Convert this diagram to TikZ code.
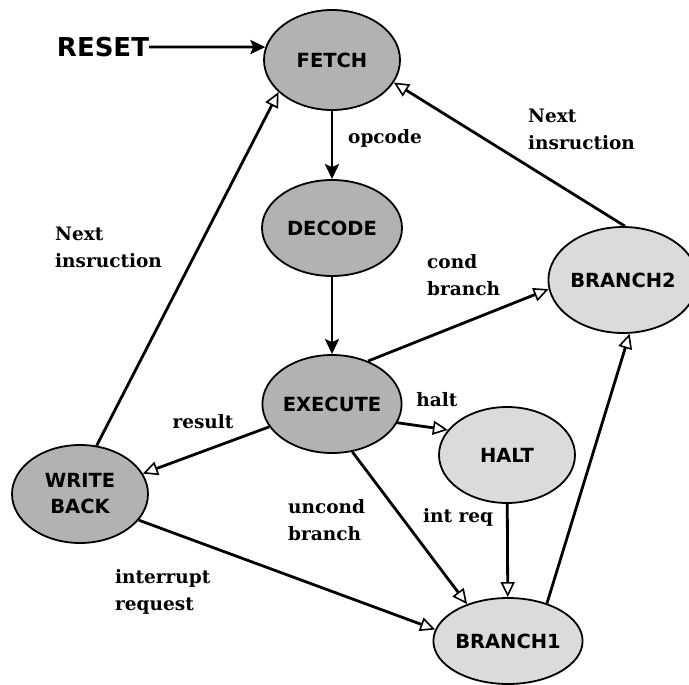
\documentclass[tikz,border=0pt]{standalone}
\usepackage{fontspec}
\setmainfont{DejaVu Serif}
\newfontfamily\statefont{DejaVu Sans}
\usetikzlibrary{arrows.meta,shapes.geometric}
\definecolor{statedark}{gray}{0.70}
\definecolor{statelight}{gray}{0.86}

\begin{document}
\begin{tikzpicture}[x=1pt, y=-1pt,
    state/.style={ellipse, draw, line width=1.8pt, inner sep=0pt, minimum width=136pt, minimum height=98pt, align=center, font=\statefont\bfseries\fontsize{19.5}{26}\selectfont},
    dark/.style={fill=statedark},
    light/.style={fill=statelight},
    tag/.style={inner sep=0pt, align=left, font=\bfseries\fontsize{18.5}{27}\selectfont},
    mainflow/.style={-{Stealth[length=15pt, width=14pt, inset=3pt]}, line width=2.8pt},
    sideflow/.style={-{Triangle[open, length=15pt, width=14pt, fill=white, line width=1.6pt]}, line width=2.8pt}
]
\useasboundingbox (0,0) rectangle (689,685);

% Main pipeline
\node[font=\statefont\bfseries\fontsize{26}{30}\selectfont, inner sep=0pt] (reset) at (103,47) {RESET};
\node[state, dark, minimum height=100pt] (fetch) at (332,60) {FETCH};
\node[state, dark, minimum width=140pt, minimum height=96pt] (decode) at (332,228) {DECODE};
\node[state, dark] (execute) at (332,404) {EXECUTE};
\node[state, dark] (writeback) at (80,494) {WRITE\\BACK};

% Other states
\node[state, light, minimum height=96pt] (halt) at (507,455) {HALT};
\node[state, light, minimum width=140pt, minimum height=86pt] (branch1) at (508,641) {BRANCH1};
\node[state, light, minimum width=130pt, minimum height=106pt] (branch2) at (623,280) {BRANCH2};

% Transitions
\draw[mainflow] (reset.east) -- (fetch.169);
\draw[mainflow] (fetch) -- (decode);
\draw[mainflow] (decode) -- (execute);
\draw[sideflow] (execute.50) -- (branch2.187);
\draw[sideflow] (branch2.88) -- (fetch.-20);
\draw[sideflow] (writeback.71) -- (fetch.211);
\draw[sideflow] (execute.200) -- (writeback.18);
\draw[sideflow] (execute.-16) -- (halt.157);
\draw[sideflow] (execute.-67) -- (branch1.138);
\draw[sideflow] (halt) -- (branch1);
\draw[sideflow] (writeback.-24) -- (branch1.171);
\draw[sideflow] (branch1.44) -- (branch2.-83);

% Edge labels
\node[tag] (opcodelbl) at (385,138) {opcode};
\node[tag, anchor=west] (nextright) at (528,129) {Next\\insruction};
\node[tag, anchor=west] (nextleft) at (55,247) {Next\\insruction};
\node[tag, anchor=west] (condlbl) at (427,275) {cond\\branch};
\node[tag] (resultlbl) at (203,422) {result};
\node[tag] (haltlbl) at (437,400) {halt};
\node[tag, anchor=west] (uncondlbl) at (288,520) {uncond\\branch};
\node[tag] (intreqlbl) at (458,517) {int req};
\node[tag, anchor=west] (interruptlbl) at (115,592) {interrupt\\request};

\end{tikzpicture}
\end{document}
